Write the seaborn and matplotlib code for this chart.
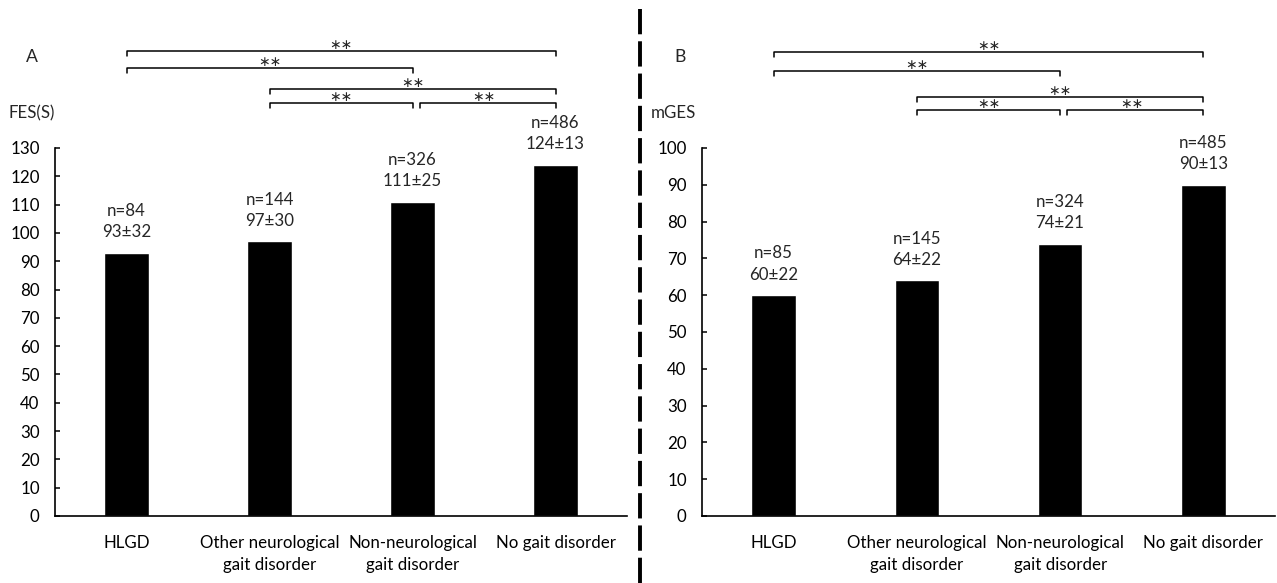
import matplotlib
matplotlib.use("Agg")
import matplotlib.pyplot as plt
from matplotlib.lines import Line2D
import seaborn as sns
import pandas as pd

categories = ["HLGD", "Other neurological\ngait disorder",
              "Non-neurological\ngait disorder", "No gait disorder"]

fes_values = [93, 97, 111, 124]
fes_labels = ["n=84\n93±32", "n=144\n97±30", "n=326\n111±25", "n=486\n124±13"]
fes_ticks = list(range(0, 131, 10))

mges_values = [60, 64, 74, 90]
mges_labels = ["n=85\n60±22", "n=145\n64±22", "n=324\n74±21", "n=485\n90±13"]
mges_ticks = list(range(0, 101, 10))

# significance brackets: (start category, end category, label)
brackets = [(0, 3, "∗∗"), (0, 2, "∗∗"), (1, 3, "∗∗"), (1, 2, "∗∗"), (2.05, 3, "∗∗")]

sns.set_style("white")
plt.rcParams["font.family"] = ["Lato", "DejaVu Sans"]

FS = 12.2
W, H = 1277, 583
fig = plt.figure(figsize=(W / 100, H / 100), dpi=100)

def px_axes(l, r, t, b):
    return fig.add_axes([l / W, 1 - b / H, (r - l) / W, (b - t) / H])

axA = px_axes(55, 627, 148, 516)
axB = px_axes(702, 1275, 148, 516)

bracket_y_A = [51, 68, 89, 103, 103]
bracket_y_B = [52, 71, 97, 110, 110]

def draw_panel(ax, values, labels, ticks, ylabel, letter, bracket_px, ylab_x, letter_x):
    df = pd.DataFrame({"cat": categories, "val": values})
    sns.barplot(data=df, x="cat", y="val", color="black", saturation=1,
                width=0.31, ax=ax, order=categories)
    ax.set_xlim(-0.5, 3.5)
    ax.set_ylim(ticks[0], ticks[-1])
    ax.set_yticks(ticks)
    ax.set_xlabel("")
    ax.set_ylabel("")
    for s in ["top", "right"]:
        ax.spines[s].set_visible(False)
    for s in ["left", "bottom"]:
        ax.spines[s].set_linewidth(1.2)
        ax.spines[s].set_color("black")
    ax.tick_params(axis="y", direction="in", length=3.5, width=1.1, pad=11,
                   labelsize=FS, colors="black", left=True)
    ax.tick_params(axis="x", length=0, pad=14, labelsize=FS, colors="black")
    for lbl in ax.get_xticklabels():
        lbl.set_linespacing(1.45)
    for i, (v, t) in enumerate(zip(values, labels)):
        ax.annotate(t, xy=(i, v), xytext=(0, 9), textcoords="offset points",
                    ha="center", va="bottom", fontsize=FS, linespacing=1.4)
    trans = ax.get_xaxis_transform()
    h = 368.0
    for (a, b, lab), ypx in zip(brackets, bracket_px):
        y = (516 - ypx) / h
        d = 5 / h
        ax.add_line(Line2D([a, a, b, b], [y - d, y, y, y - d], transform=trans,
                           color="black", lw=1.1, clip_on=False))
        xm = (a + b) / 2 if a == int(a) else (2 + b) / 2
        ax.text(xm, y + 6 / h, lab, transform=trans, ha="center", va="center",
                fontsize=10, family="DejaVu Sans", clip_on=False)
    fig.text(ylab_x / W, 1 - 113 / H, ylabel, ha="left", va="center", fontsize=FS)
    fig.text(letter_x / W, 1 - 57 / H, letter, ha="center", va="center", fontsize=FS + 0.5)

draw_panel(axA, fes_values, fes_labels, fes_ticks, "FES(S)", "A", bracket_y_A, 8, 32)
draw_panel(axB, mges_values, mges_labels, mges_ticks, "mGES", "B", bracket_y_B, 651, 680)

fig.add_artist(Line2D([640 / W, 640 / W], [0, 1 - 8 / H], transform=fig.transFigure,
                      color="black", lw=2.8, linestyle=(0, (6.5, 1.8))))

fig.savefig("out.png", dpi=100)
